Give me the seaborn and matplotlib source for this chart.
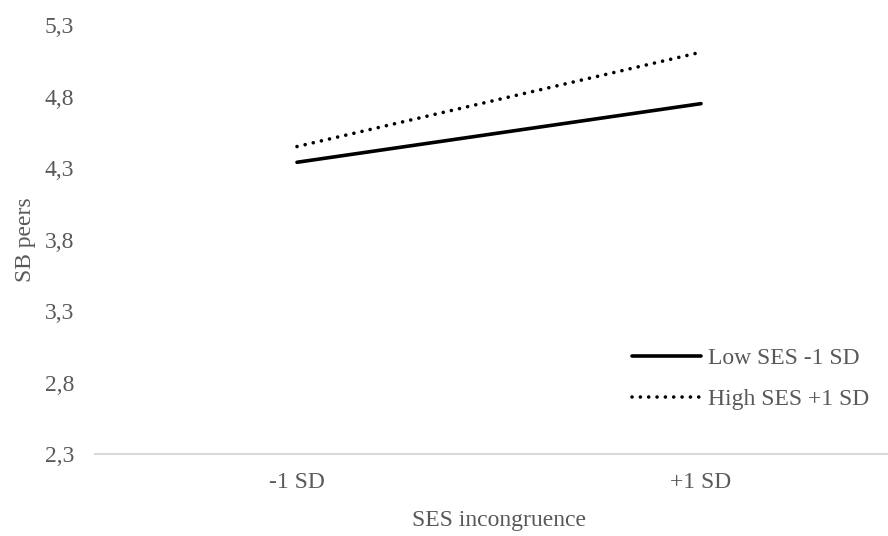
import matplotlib
matplotlib.use("Agg")
import matplotlib.pyplot as plt
import seaborn as sns
import pandas as pd

categories = ["-1 SD", "+1 SD"]
series_names = ["Low SES -1 SD", "High SES +1 SD"]
low_ses = [4.34, 4.75]
high_ses = [4.45, 5.11]
y_ticks = [2.3, 2.8, 3.3, 3.8, 4.3, 4.8, 5.3]

df = pd.DataFrame({
    "SES incongruence": categories * 2,
    "SB peers": low_ses + high_ses,
    "group": [series_names[0]] * 2 + [series_names[1]] * 2,
})

sns.set_theme(style="white")
plt.rcParams["font.family"] = ["Liberation Serif", "DejaVu Serif"]

FS = 17
GREY = "#595959"

fig = plt.figure(figsize=(8.88, 5.36), dpi=100)
ax = fig.add_axes([95 / 888, (536 - 454) / 536, 808 / 888, (454 - 25) / 536])

sns.lineplot(data=df, x="SES incongruence", y="SB peers", hue="group", style="group",
             palette={series_names[0]: "black", series_names[1]: "black"},
             dashes={series_names[0]: "", series_names[1]: (0.01, 2.3)},
             linewidth=2.6, ax=ax, sort=False, legend=False)
for ln in ax.get_lines():
    ln.set_dash_capstyle("round")
    ln.set_solid_capstyle("round")

ax.set_xlim(-0.5, 1.5)
ax.set_ylim(2.3, 5.3)
ax.set_yticks(y_ticks)
ax.set_yticklabels([f"{v:.1f}".replace(".", ",") for v in y_ticks])
for s in ["top", "right", "left"]:
    ax.spines[s].set_visible(False)
ax.spines["bottom"].set_color("#d9d9d9")
ax.spines["bottom"].set_linewidth(1.5)
ax.tick_params(axis="both", length=0, labelsize=FS, colors=GREY)
ax.tick_params(axis="x", pad=13)
ax.tick_params(axis="y", pad=15)
ax.set_xlabel("SES incongruence", fontsize=FS, color=GREY, labelpad=12)
ax.set_ylabel("SB peers", fontsize=FS, color=GREY, labelpad=6)
ax.grid(False)

leg = fig.legend(handles=ax.get_lines()[:2], labels=series_names, loc="upper left",
                 bbox_to_anchor=(611 / 888, 1 - 326 / 536), frameon=False,
                 fontsize=FS, handlelength=2.9, handletextpad=0.3, labelspacing=0.83)
for t in leg.get_texts():
    t.set_color(GREY)

fig.savefig("out.png", dpi=100)
